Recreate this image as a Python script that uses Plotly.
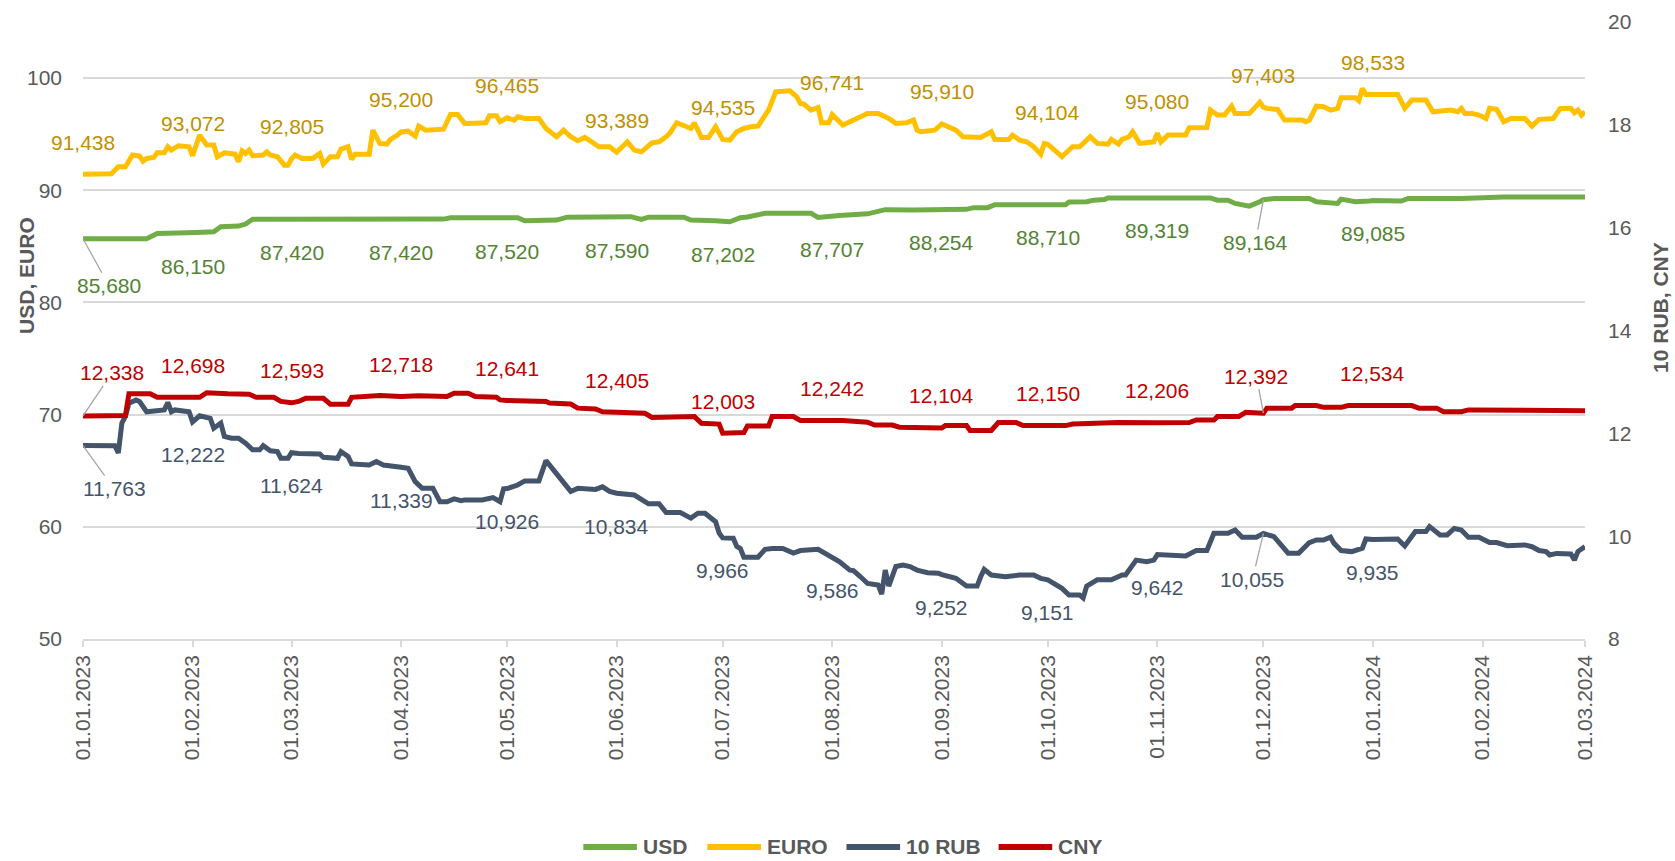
import plotly.graph_objects as go

# ---------------- data ----------------
MONTHS = ["2023-01-01", "2023-02-01", "2023-03-01", "2023-04-01", "2023-05-01",
          "2023-06-01", "2023-07-01", "2023-08-01", "2023-09-01", "2023-10-01",
          "2023-11-01", "2023-12-01", "2024-01-01", "2024-02-01", "2024-03-01"]
TICK_TEXT = ["01.01.2023", "01.02.2023", "01.03.2023", "01.04.2023", "01.05.2023",
             "01.06.2023", "01.07.2023", "01.08.2023", "01.09.2023", "01.10.2023",
             "01.11.2023", "01.12.2023", "01.01.2024", "01.02.2024", "01.03.2024"]

EURO = [
    ("2023-01-01", 91.438), ("2023-01-09", 91.47), ("2023-01-11", 92.10), ("2023-01-13", 92.10),
    ("2023-01-15", 93.14), ("2023-01-17", 93.05), ("2023-01-18", 92.60), ("2023-01-19", 92.84),
    ("2023-01-21", 92.93), ("2023-01-22", 93.34), ("2023-01-24", 93.34), ("2023-01-25", 93.88),
    ("2023-01-26", 93.58), ("2023-01-28", 93.97), ("2023-01-31", 93.88), ("2023-02-01", 93.072),
    ("2023-02-03", 94.92), ("2023-02-05", 94.03), ("2023-02-07", 94.03), ("2023-02-08", 92.99),
    ("2023-02-10", 93.34), ("2023-02-13", 93.22), ("2023-02-14", 92.54), ("2023-02-15", 93.52),
    ("2023-02-16", 93.28), ("2023-02-17", 93.58), ("2023-02-18", 93.08), ("2023-02-21", 93.14),
    ("2023-02-22", 93.43), ("2023-02-23", 93.14), ("2023-02-25", 92.99), ("2023-02-27", 92.24),
    ("2023-02-28", 92.24), ("2023-03-01", 92.805), ("2023-03-02", 93.14), ("2023-03-04", 92.84),
    ("2023-03-07", 92.84), ("2023-03-09", 93.28), ("2023-03-10", 92.33), ("2023-03-12", 92.99),
    ("2023-03-14", 92.99), ("2023-03-15", 93.67), ("2023-03-17", 93.88), ("2023-03-18", 92.75),
    ("2023-03-19", 93.22), ("2023-03-23", 93.22), ("2023-03-24", 95.36), ("2023-03-26", 94.18),
    ("2023-03-28", 94.12), ("2023-03-29", 94.53), ("2023-03-31", 94.92), ("2023-04-01", 95.200),
    ("2023-04-03", 95.27), ("2023-04-05", 94.83), ("2023-04-06", 95.72), ("2023-04-08", 95.36),
    ("2023-04-13", 95.45), ("2023-04-15", 96.76), ("2023-04-17", 96.76), ("2023-04-19", 95.96),
    ("2023-04-20", 95.96), ("2023-04-25", 96.02), ("2023-04-26", 96.64), ("2023-04-28", 96.64),
    ("2023-04-29", 96.11), ("2023-05-01", 96.465), ("2023-05-03", 96.26), ("2023-05-04", 96.55),
    ("2023-05-06", 96.40), ("2023-05-10", 96.40), ("2023-05-12", 95.51), ("2023-05-15", 94.77),
    ("2023-05-17", 95.36), ("2023-05-19", 94.77), ("2023-05-21", 94.41), ("2023-05-23", 94.71),
    ("2023-05-27", 93.88), ("2023-05-30", 93.88), ("2023-06-01", 93.389), ("2023-06-04", 94.32),
    ("2023-06-06", 93.58), ("2023-06-08", 93.43), ("2023-06-11", 94.23), ("2023-06-13", 94.32),
    ("2023-06-15", 94.77), ("2023-06-16", 95.07), ("2023-06-18", 96.02), ("2023-06-20", 95.81),
    ("2023-06-22", 95.51), ("2023-06-23", 96.02), ("2023-06-25", 94.71), ("2023-06-27", 94.71),
    ("2023-06-29", 95.66), ("2023-07-01", 94.535), ("2023-07-03", 94.47), ("2023-07-05", 95.22),
    ("2023-07-07", 95.51), ("2023-07-09", 95.66), ("2023-07-11", 95.72), ("2023-07-13", 96.70),
    ("2023-07-14", 97.15), ("2023-07-16", 98.78), ("2023-07-20", 98.87), ("2023-07-22", 98.33),
    ("2023-07-23", 97.74), ("2023-07-24", 97.68), ("2023-07-26", 97.15), ("2023-07-28", 97.38),
    ("2023-07-29", 96.02), ("2023-07-31", 96.02), ("2023-08-01", 96.741), ("2023-08-04", 95.81),
    ("2023-08-07", 96.20), ("2023-08-09", 96.55), ("2023-08-11", 96.85), ("2023-08-14", 96.85),
    ("2023-08-17", 96.40), ("2023-08-19", 95.96), ("2023-08-22", 96.02), ("2023-08-24", 96.26),
    ("2023-08-25", 95.36), ("2023-08-26", 95.22), ("2023-08-30", 95.36), ("2023-09-01", 95.910),
    ("2023-09-05", 95.36), ("2023-09-07", 94.77), ("2023-09-12", 94.71), ("2023-09-15", 95.22),
    ("2023-09-16", 94.53), ("2023-09-20", 94.53), ("2023-09-21", 94.92), ("2023-09-23", 94.47),
    ("2023-09-25", 94.32), ("2023-09-27", 93.88), ("2023-09-29", 93.22), ("2023-09-30", 94.18),
    ("2023-10-01", 94.104), ("2023-10-05", 92.99), ("2023-10-08", 93.88), ("2023-10-10", 93.88),
    ("2023-10-13", 94.77), ("2023-10-15", 94.18), ("2023-10-18", 94.12), ("2023-10-19", 94.53),
    ("2023-10-21", 94.12), ("2023-10-22", 94.53), ("2023-10-24", 94.77), ("2023-10-25", 95.22),
    ("2023-10-27", 94.18), ("2023-10-31", 94.32), ("2023-11-01", 95.080), ("2023-11-02", 94.32),
    ("2023-11-04", 94.92), ("2023-11-09", 94.92), ("2023-11-10", 95.57), ("2023-11-15", 95.60),
    ("2023-11-16", 97.15), ("2023-11-18", 96.70), ("2023-11-20", 96.70), ("2023-11-22", 97.50),
    ("2023-11-23", 96.85), ("2023-11-27", 96.85), ("2023-11-29", 97.50), ("2023-11-30", 97.85),
    ("2023-12-01", 97.403), ("2023-12-02", 97.30), ("2023-12-05", 97.21), ("2023-12-07", 96.26),
    ("2023-12-12", 96.26), ("2023-12-13", 96.11), ("2023-12-14", 96.26), ("2023-12-16", 97.50),
    ("2023-12-18", 97.44), ("2023-12-20", 97.15), ("2023-12-22", 97.30), ("2023-12-23", 98.25),
    ("2023-12-27", 98.25), ("2023-12-28", 97.98), ("2023-12-29", 99.08), ("2023-12-30", 98.54),
    ("2024-01-01", 98.533), ("2024-01-08", 98.54), ("2024-01-10", 97.30), ("2024-01-11", 97.74),
    ("2024-01-12", 98.04), ("2024-01-16", 98.04), ("2024-01-18", 97.00), ("2024-01-23", 97.15),
    ("2024-01-25", 97.00), ("2024-01-26", 97.30), ("2024-01-27", 96.85), ("2024-01-29", 96.85),
    ("2024-01-31", 96.70), ("2024-02-02", 96.40), ("2024-02-03", 97.30), ("2024-02-05", 97.21),
    ("2024-02-07", 96.11), ("2024-02-09", 96.40), ("2024-02-13", 96.40), ("2024-02-15", 95.72),
    ("2024-02-17", 96.32), ("2024-02-21", 96.40), ("2024-02-23", 97.30), ("2024-02-26", 97.30),
    ("2024-02-27", 96.91), ("2024-02-28", 97.15), ("2024-02-29", 96.70), ("2024-03-01", 97.00),
]

USD = [
    ("2023-01-01", 85.680), ("2023-01-19", 85.68), ("2023-01-22", 86.15), ("2023-01-28", 86.15),
    ("2023-02-01", 86.150), ("2023-02-02", 86.24), ("2023-02-07", 86.30), ("2023-02-09", 86.75),
    ("2023-02-14", 86.81), ("2023-02-16", 86.99), ("2023-02-18", 87.42), ("2023-03-01", 87.420),
    ("2023-04-01", 87.420), ("2023-04-13", 87.43), ("2023-04-15", 87.55), ("2023-05-01", 87.520),
    ("2023-05-04", 87.55), ("2023-05-06", 87.28), ("2023-05-15", 87.34), ("2023-05-18", 87.60),
    ("2023-06-01", 87.590), ("2023-06-05", 87.65), ("2023-06-08", 87.40), ("2023-06-10", 87.60),
    ("2023-06-20", 87.60), ("2023-06-22", 87.34), ("2023-06-29", 87.28), ("2023-07-01", 87.202),
    ("2023-07-03", 87.19), ("2023-07-06", 87.55), ("2023-07-08", 87.62), ("2023-07-13", 87.95),
    ("2023-07-26", 87.95), ("2023-07-28", 87.58), ("2023-08-01", 87.707), ("2023-08-03", 87.75),
    ("2023-08-11", 87.90), ("2023-08-14", 88.15), ("2023-08-16", 88.27), ("2023-08-24", 88.25),
    ("2023-09-01", 88.254), ("2023-09-08", 88.30), ("2023-09-10", 88.45), ("2023-09-14", 88.45),
    ("2023-09-16", 88.71), ("2023-10-01", 88.710), ("2023-10-06", 88.71), ("2023-10-07", 88.95),
    ("2023-10-12", 88.98), ("2023-10-14", 89.12), ("2023-10-17", 89.18), ("2023-10-18", 89.32),
    ("2023-11-01", 89.319), ("2023-11-16", 89.32), ("2023-11-18", 89.12), ("2023-11-21", 89.12),
    ("2023-11-23", 88.83), ("2023-11-27", 88.59), ("2023-11-30", 88.98), ("2023-12-01", 89.164),
    ("2023-12-04", 89.27), ("2023-12-14", 89.27), ("2023-12-16", 88.98), ("2023-12-20", 88.95),
    ("2023-12-22", 88.83), ("2023-12-23", 89.21), ("2023-12-26", 89.12), ("2023-12-27", 88.98),
    ("2023-12-31", 89.04), ("2024-01-01", 89.085), ("2024-01-09", 89.04), ("2024-01-11", 89.27),
    ("2024-01-26", 89.27), ("2024-02-05", 89.33), ("2024-02-07", 89.40), ("2024-03-01", 89.40),
]

RUB10 = [
    ("2023-01-01", 11.763), ("2023-01-10", 11.76), ("2023-01-11", 11.62), ("2023-01-12", 12.20),
    ("2023-01-13", 12.33), ("2023-01-14", 12.585), ("2023-01-16", 12.65), ("2023-01-17", 12.62),
    ("2023-01-19", 12.42), ("2023-01-22", 12.455), ("2023-01-24", 12.455), ("2023-01-25", 12.60),
    ("2023-01-26", 12.42), ("2023-01-27", 12.455), ("2023-01-31", 12.42), ("2023-02-01", 12.222),
    ("2023-02-03", 12.34), ("2023-02-06", 12.29), ("2023-02-07", 12.10), ("2023-02-09", 12.20),
    ("2023-02-10", 11.94), ("2023-02-12", 11.905), ("2023-02-14", 11.905), ("2023-02-16", 11.81),
    ("2023-02-18", 11.68), ("2023-02-20", 11.68), ("2023-02-21", 11.76), ("2023-02-23", 11.66),
    ("2023-02-25", 11.645), ("2023-02-26", 11.515), ("2023-02-28", 11.515), ("2023-03-01", 11.624),
    ("2023-03-03", 11.61), ("2023-03-09", 11.60), ("2023-03-10", 11.535), ("2023-03-14", 11.515),
    ("2023-03-15", 11.645), ("2023-03-17", 11.55), ("2023-03-18", 11.405), ("2023-03-23", 11.385),
    ("2023-03-25", 11.45), ("2023-03-27", 11.385), ("2023-03-31", 11.365), ("2023-04-01", 11.339),
    ("2023-04-03", 11.32), ("2023-04-05", 11.06), ("2023-04-07", 10.93), ("2023-04-10", 10.93),
    ("2023-04-12", 10.67), ("2023-04-14", 10.67), ("2023-04-16", 10.725), ("2023-04-18", 10.69),
    ("2023-04-19", 10.705), ("2023-04-24", 10.705), ("2023-04-27", 10.75), ("2023-04-29", 10.67),
    ("2023-04-30", 10.92), ("2023-05-01", 10.926), ("2023-05-04", 10.995), ("2023-05-06", 11.075),
    ("2023-05-10", 11.075), ("2023-05-12", 11.47), ("2023-05-14", 11.30), ("2023-05-17", 11.03),
    ("2023-05-19", 10.87), ("2023-05-21", 10.93), ("2023-05-26", 10.91), ("2023-05-28", 10.96),
    ("2023-05-30", 10.87), ("2023-06-01", 10.834), ("2023-06-06", 10.80), ("2023-06-10", 10.63),
    ("2023-06-13", 10.63), ("2023-06-15", 10.46), ("2023-06-19", 10.46), ("2023-06-22", 10.35),
    ("2023-06-24", 10.445), ("2023-06-26", 10.445), ("2023-06-28", 10.315), ("2023-06-29", 10.28),
    ("2023-06-30", 10.06), ("2023-07-01", 9.966), ("2023-07-04", 9.96), ("2023-07-05", 9.80),
    ("2023-07-06", 9.76), ("2023-07-07", 9.59), ("2023-07-11", 9.59), ("2023-07-13", 9.745),
    ("2023-07-15", 9.76), ("2023-07-18", 9.76), ("2023-07-21", 9.67), ("2023-07-23", 9.72),
    ("2023-07-28", 9.745), ("2023-07-30", 9.66), ("2023-08-01", 9.586), ("2023-08-03", 9.505),
    ("2023-08-06", 9.34), ("2023-08-07", 9.33), ("2023-08-09", 9.21), ("2023-08-11", 9.08),
    ("2023-08-14", 9.05), ("2023-08-15", 8.875), ("2023-08-16", 9.34), ("2023-08-17", 9.03),
    ("2023-08-19", 9.41), ("2023-08-21", 9.44), ("2023-08-23", 9.41), ("2023-08-25", 9.34),
    ("2023-08-28", 9.29), ("2023-08-31", 9.28), ("2023-09-01", 9.252), ("2023-09-05", 9.18),
    ("2023-09-08", 9.03), ("2023-09-11", 9.03), ("2023-09-12", 9.21), ("2023-09-13", 9.355),
    ("2023-09-15", 9.245), ("2023-09-19", 9.21), ("2023-09-23", 9.245), ("2023-09-27", 9.245),
    ("2023-09-29", 9.18), ("2023-10-01", 9.151), ("2023-10-05", 8.985), ("2023-10-07", 8.855),
    ("2023-10-10", 8.855), ("2023-10-11", 8.80), ("2023-10-12", 9.03), ("2023-10-15", 9.15),
    ("2023-10-19", 9.15), ("2023-10-22", 9.245), ("2023-10-23", 9.245), ("2023-10-26", 9.535),
    ("2023-10-29", 9.505), ("2023-10-31", 9.535), ("2023-11-01", 9.642), ("2023-11-09", 9.615),
    ("2023-11-12", 9.72), ("2023-11-15", 9.72), ("2023-11-17", 10.055), ("2023-11-21", 10.055),
    ("2023-11-23", 10.12), ("2023-11-25", 9.98), ("2023-11-29", 9.98), ("2023-12-01", 10.055),
    ("2023-12-04", 9.99), ("2023-12-06", 9.83), ("2023-12-08", 9.67), ("2023-12-11", 9.67),
    ("2023-12-14", 9.875), ("2023-12-16", 9.925), ("2023-12-18", 9.925), ("2023-12-20", 9.98),
    ("2023-12-21", 9.86), ("2023-12-23", 9.72), ("2023-12-26", 9.70), ("2023-12-29", 9.765),
    ("2023-12-30", 9.945), ("2024-01-01", 9.935), ("2024-01-08", 9.945), ("2024-01-10", 9.81),
    ("2024-01-12", 9.98), ("2024-01-13", 10.09), ("2024-01-16", 10.09), ("2024-01-17", 10.185),
    ("2024-01-20", 10.025), ("2024-01-22", 10.025), ("2024-01-24", 10.15), ("2024-01-26", 10.12),
    ("2024-01-28", 9.98), ("2024-01-31", 9.98), ("2024-02-03", 9.875), ("2024-02-05", 9.875),
    ("2024-02-08", 9.815), ("2024-02-13", 9.83), ("2024-02-15", 9.795), ("2024-02-17", 9.72),
    ("2024-02-19", 9.70), ("2024-02-20", 9.635), ("2024-02-22", 9.665), ("2024-02-26", 9.655),
    ("2024-02-27", 9.535), ("2024-02-28", 9.70), ("2024-02-29", 9.75), ("2024-03-01", 9.795),
]

CNY = [
    ("2023-01-01", 12.338), ("2023-01-13", 12.345), ("2023-01-14", 12.77), ("2023-01-20", 12.77),
    ("2023-01-22", 12.70), ("2023-02-01", 12.698), ("2023-02-03", 12.70), ("2023-02-05", 12.79),
    ("2023-02-10", 12.79), ("2023-02-11", 12.77), ("2023-02-17", 12.76), ("2023-02-19", 12.70),
    ("2023-02-24", 12.70), ("2023-02-26", 12.62), ("2023-03-01", 12.593), ("2023-03-03", 12.62),
    ("2023-03-05", 12.68), ("2023-03-10", 12.68), ("2023-03-12", 12.565), ("2023-03-17", 12.565),
    ("2023-03-18", 12.70), ("2023-03-24", 12.715), ("2023-03-26", 12.735), ("2023-04-01", 12.718),
    ("2023-04-06", 12.73), ("2023-04-14", 12.715), ("2023-04-16", 12.78), ("2023-04-20", 12.78),
    ("2023-04-22", 12.715), ("2023-04-28", 12.70), ("2023-04-29", 12.65), ("2023-05-01", 12.641),
    ("2023-05-04", 12.635), ("2023-05-12", 12.62), ("2023-05-13", 12.59), ("2023-05-19", 12.57),
    ("2023-05-21", 12.49), ("2023-05-26", 12.475), ("2023-05-28", 12.42), ("2023-06-01", 12.405),
    ("2023-06-09", 12.39), ("2023-06-11", 12.31), ("2023-06-23", 12.325), ("2023-06-25", 12.195),
    ("2023-06-30", 12.18), ("2023-07-01", 12.003), ("2023-07-07", 12.015), ("2023-07-08", 12.145),
    ("2023-07-14", 12.145), ("2023-07-15", 12.325), ("2023-07-21", 12.325), ("2023-07-23", 12.25),
    ("2023-08-01", 12.242), ("2023-08-04", 12.25), ("2023-08-11", 12.215), ("2023-08-13", 12.16),
    ("2023-08-18", 12.16), ("2023-08-20", 12.12), ("2023-09-01", 12.104), ("2023-09-02", 12.15),
    ("2023-09-08", 12.15), ("2023-09-09", 12.055), ("2023-09-15", 12.055), ("2023-09-17", 12.21),
    ("2023-09-22", 12.21), ("2023-09-24", 12.15), ("2023-10-01", 12.150), ("2023-10-06", 12.15),
    ("2023-10-08", 12.18), ("2023-10-13", 12.195), ("2023-10-21", 12.21), ("2023-11-01", 12.206),
    ("2023-11-10", 12.21), ("2023-11-12", 12.26), ("2023-11-17", 12.26), ("2023-11-18", 12.325),
    ("2023-11-24", 12.325), ("2023-11-26", 12.41), ("2023-12-01", 12.392), ("2023-12-02", 12.49),
    ("2023-12-09", 12.49), ("2023-12-10", 12.54), ("2023-12-16", 12.54), ("2023-12-18", 12.505),
    ("2023-12-23", 12.505), ("2023-12-25", 12.54), ("2024-01-01", 12.534), ("2024-01-12", 12.54),
    ("2024-01-14", 12.49), ("2024-01-19", 12.49), ("2024-01-21", 12.42), ("2024-01-26", 12.42),
    ("2024-01-28", 12.455), ("2024-03-01", 12.44),
]

# monthly data labels (first day of each month, Jan 2023 - Jan 2024)
LABEL_DATES = MONTHS[:13]
EURO_LABELS = [91.438, 93.072, 92.805, 95.200, 96.465, 93.389, 94.535, 96.741, 95.910, 94.104, 95.080, 97.403, 98.533]
USD_LABELS = [85.680, 86.150, 87.420, 87.420, 87.520, 87.590, 87.202, 87.707, 88.254, 88.710, 89.319, 89.164, 89.085]
RUB10_LABELS = [11.763, 12.222, 11.624, 11.339, 10.926, 10.834, 9.966, 9.586, 9.252, 9.151, 9.642, 10.055, 9.935]
CNY_LABELS = [12.338, 12.698, 12.593, 12.718, 12.641, 12.405, 12.003, 12.242, 12.104, 12.150, 12.206, 12.392, 12.534]

SERIES_NAMES = ["USD", "EURO", "10 RUB", "CNY"]

# ---------------- style ----------------
FONT = "Liberation Sans, Arial, sans-serif"
GREY = "#595959"
GRID = "#D9D9D9"
C_USD, C_EUR, C_RUB, C_CNY = "#70AD47", "#FFC000", "#44546A", "#C00000"
L_USD, L_EUR, L_RUB, L_CNY = "#548235", "#BF9000", "#44546A", "#C00000"
FS = 21


def split(pairs):
    return [p[0] for p in pairs], [p[1] for p in pairs]


def fmt(v):
    return f"{v:.3f}".replace(".", ",")


fig = go.Figure()

series = [
    ("USD", USD, C_USD, "y"),
    ("EURO", EURO, C_EUR, "y"),
    ("10 RUB", RUB10, C_RUB, "y2"),
    ("CNY", CNY, C_CNY, "y2"),
]
for name, data, color, ax in series:
    xs, ys = split(data)
    fig.add_trace(go.Scatter(x=xs, y=ys, mode="lines", name=name, yaxis=ax,
                             line=dict(color=color, width=5, shape="linear"),
                             showlegend=False, hoverinfo="x+y+name"))

annotations = []
label_sets = [
    ("USD", USD_LABELS, L_USD, "y", -33),
    ("EURO", EURO_LABELS, L_EUR, "y", 32),
    ("10 RUB", RUB10_LABELS, L_RUB, "y2", -33),
    ("CNY", CNY_LABELS, L_CNY, "y2", 32),
]
# labels moved away from their point with a leader line: (series, index) -> (ax, ay) pixels
LEADERS = {
    ("USD", 0): (26, 47), ("CNY", 0): (29, -43), ("10 RUB", 0): (31, 43),
    ("USD", 11): (-8, 43), ("CNY", 11): (-7, -37), ("10 RUB", 11): (-11, 46),
}
for name, vals, color, yref, shift in label_sets:
    for i, (d, v) in enumerate(zip(LABEL_DATES, vals)):
        base = dict(x=d, y=v, xref="x", yref=yref, text=fmt(v),
                    font=dict(family=FONT, size=FS, color=color))
        if (name, i) in LEADERS:
            axp, ayp = LEADERS[(name, i)]
            base.update(showarrow=True, ax=axp, ay=ayp, arrowhead=0, arrowwidth=1.3,
                        arrowcolor="#A6A6A6", standoff=0, startstandoff=0)
        else:
            base.update(showarrow=False, yshift=shift, xanchor="center", yanchor="middle")
        annotations.append(base)

# axis titles
annotations.append(dict(text="USD, EURO", xref="paper", yref="paper", x=-0.0373, y=0.590,
                        textangle=-90, showarrow=False, xanchor="center", yanchor="middle",
                        font=dict(family=FONT, size=FS, color=GREY, weight="bold")))
annotations.append(dict(text="10 RUB, CNY", xref="paper", yref="paper", x=1.0506, y=0.5365,
                        textangle=-90, showarrow=False, xanchor="center", yanchor="middle",
                        font=dict(family=FONT, size=FS, color=GREY, weight="bold")))

# legend (drawn manually for Excel-like long line keys)
LEG_X0 = [0.3331, 0.4157, 0.5083, 0.6096]
LEG_LEN = 0.0357
LEG_Y = -0.337
shapes = []
for name, color, x0 in zip(SERIES_NAMES, [C_USD, C_EUR, C_RUB, C_CNY], LEG_X0):
    shapes.append(dict(type="line", xref="paper", yref="paper", x0=x0, x1=x0 + LEG_LEN,
                       y0=LEG_Y, y1=LEG_Y, line=dict(color=color, width=6)))
    annotations.append(dict(text=name, xref="paper", yref="paper", x=x0 + LEG_LEN + 0.0025,
                            y=LEG_Y, xanchor="left", yanchor="middle", showarrow=False,
                            font=dict(family=FONT, size=FS, color=GREY, weight="bold")))

fig.update_layout(
    width=1675, height=861,
    margin=dict(l=83, r=90, t=22, b=222, pad=0),
    paper_bgcolor="white", plot_bgcolor="white",
    showlegend=False,
    font=dict(family=FONT, size=FS, color=GREY),
    xaxis=dict(type="date", range=[MONTHS[0], MONTHS[-1]], tickvals=MONTHS, ticktext=TICK_TEXT,
               tickangle=-90, ticks="outside", ticklen=6, tickwidth=1.5, tickcolor=GRID,
               showgrid=False, showline=True, linecolor=GRID, linewidth=1.5, zeroline=False,
               tickfont=dict(family=FONT, size=FS, color=GREY), automargin=False,
               ticklabelstandoff=0),
    yaxis=dict(range=[50, 105], tickvals=[50, 60, 70, 80, 90, 100], showgrid=True,
               gridcolor=GRID, gridwidth=1.5, zeroline=False, showline=False, ticks="",
               tickfont=dict(family=FONT, size=FS, color=GREY), automargin=False,
               ticklabelstandoff=20),
    yaxis2=dict(range=[8, 20], tickvals=[8, 10, 12, 14, 16, 18, 20], overlaying="y", side="right",
                showgrid=False, zeroline=False, showline=False, ticks="",
                tickfont=dict(family=FONT, size=FS, color=GREY), automargin=False,
                ticklabelstandoff=22),
    annotations=annotations,
    shapes=shapes,
)

fig.write_html("out.html", config={"displayModeBar": False},
               post_script="document.body.style.margin='0px';document.body.style.overflow='hidden';")
